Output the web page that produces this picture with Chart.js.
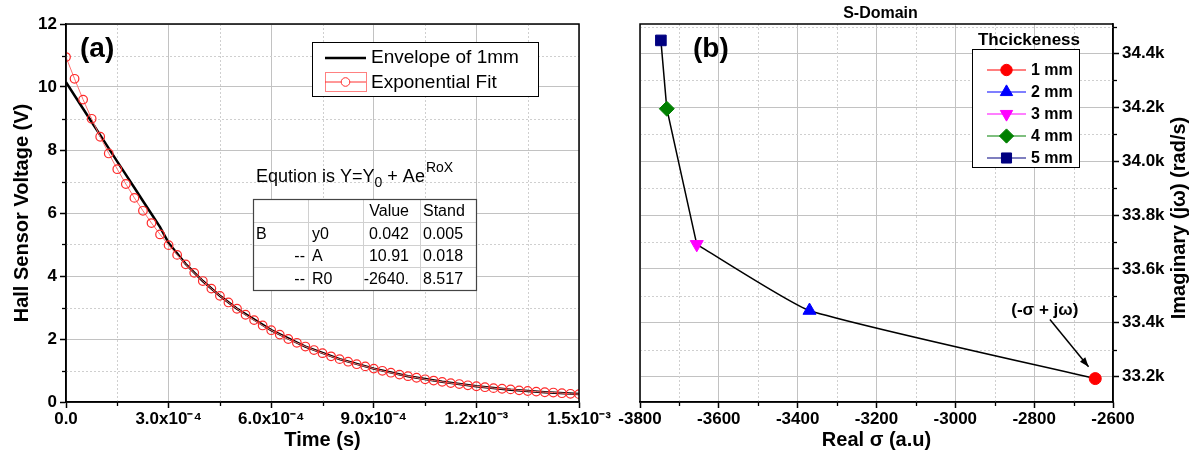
<!DOCTYPE html>
<html>
<head>
<meta charset="utf-8">
<script src="https://cdn.jsdelivr.net/npm/chart.js@4.4.1/dist/chart.umd.min.js"></script>
<style>
html,body{margin:0;padding:0;background:#fff;}
#wrap{position:relative;width:1201px;height:459px;overflow:hidden;background:#fff;}
#ca{position:absolute;left:0;top:0;}
#cb{position:absolute;left:600px;top:0;}
</style>
</head>
<body>
<div id="wrap">
<canvas id="ca" width="640" height="459"></canvas>
<canvas id="cb" width="601" height="459"></canvas>
</div>
<script>
// ---------- Panel (a) data ----------
const fitTimes = [0,0.000025,0.00005,0.000075,0.0001,0.000125,0.00015,0.000175,0.0002,0.000225,
  0.00025,0.000275,0.0003,0.000325,0.00035,0.000375,0.0004,0.000425,0.00045,0.000475,
  0.0005,0.000525,0.00055,0.000575,0.0006,0.000625,0.00065,0.000675,0.0007,0.000725,
  0.00075,0.000775,0.0008,0.000825,0.00085,0.000875,0.0009,0.000925,0.00095,0.000975,
  0.001,0.001025,0.00105,0.001075,0.0011,0.001125,0.00115,0.001175,0.0012,0.001225,
  0.00125,0.001275,0.0013,0.001325,0.00135,0.001375,0.0014,0.001425,0.00145,0.001475,0.0015];
const fitVoltage = [10.95,10.26,9.60,8.99,8.42,7.89,7.39,6.92,6.48,6.07,
  5.68,5.32,4.98,4.67,4.37,4.10,3.84,3.60,3.37,3.16,
  2.96,2.77,2.60,2.43,2.28,2.14,2.00,1.88,1.76,1.65,
  1.55,1.45,1.36,1.28,1.20,1.13,1.06,0.99,0.93,0.87,
  0.82,0.77,0.72,0.68,0.64,0.60,0.57,0.53,0.50,0.47,
  0.44,0.42,0.40,0.37,0.35,0.33,0.31,0.30,0.28,0.26,0.25];
const envTimes = [0,0.000025,0.00005,0.000075,0.0001,0.000125,0.00015,0.000175,0.0002,0.000225,
  0.00025,0.000275,0.0003,0.00035,0.0004,0.00045,0.0005,0.0006,0.0007,0.0008,0.0009,
  0.001,0.0011,0.0012,0.0013,0.0014,0.0015];
const envVoltage = [10.15,9.73,9.31,8.89,8.47,8.05,7.63,7.22,6.80,6.38,
  5.97,5.55,5.05,4.38,3.84,3.37,2.96,2.28,1.76,1.36,1.06,
  0.82,0.64,0.50,0.39,0.31,0.25];
const timeTickValues = [0,0.0003,0.0006,0.0009,0.0012,0.0015];
const timeTickLabels = ['0.0','3.0x10\u207B\u2074','6.0x10\u207B\u2074','9.0x10\u207B\u2074','1.2x10\u207B\u00B3','1.5x10\u207B\u00B3'];
const voltTickValues = [0,2,4,6,8,10,12];
const voltTickLabels = ['0','2','4','6','8','10','12'];
const timeMinorTicks = [0.00015,0.00045,0.00075,0.00105,0.00135];
const voltMinorTicks = [1,3,5,7,9,11];
const fitTableHeader = ['','','Value','Stand'];
const fitTableRows = [['B','y0','0.042','0.005'],['--','A','10.91','0.018'],['--','R0','-2640.','8.517']];

// ---------- Panel (b) data ----------
const thickness = ['1 mm','2 mm','3 mm','4 mm','5 mm'];
const realSigma = [-2645,-3370,-3656,-3732,-3747];
const imagOmega = [33192,33445,33691,34195,34449];
const realTickValues = [-3800,-3600,-3400,-3200,-3000,-2800,-2600];
const realTickLabels = ['-3800','-3600','-3400','-3200','-3000','-2800','-2600'];
const imagTickValues = [33200,33400,33600,33800,34000,34200,34400];
const imagTickLabels = ['33.2k','33.4k','33.6k','33.8k','34.0k','34.2k','34.4k'];
const realMinorTicks = [-3700,-3500,-3300,-3100,-2900,-2700];
const imagMinorTicks = [33300,33500,33700,33900,34100,34300,34500];

// ---------- styles ----------
const FONT = "'Liberation Sans', Arial, Helvetica, sans-serif";
const GRID = '#c2c2c2';
const MINOR = '#cfcfcf';
const seriesColors = ['#ff0000','#0000ff','#ff00ff','#008000','#000080'];
const markerStyles = ['circle','triangle','triangle','rectRot','rect'];
const markerRot = [0,0,180,0,0];
const markerRad = [6,7.5,7.5,7.5,7.5];

function setTicks(values) {
  return function (scale) { scale.ticks = values.map(v => ({value: v})); };
}

function drawMarker(ctx, style, rot, x, y, r, color) {
  ctx.save();
  ctx.translate(x, y);
  ctx.rotate(rot * Math.PI / 180);
  ctx.beginPath();
  if (style === 'circle') ctx.arc(0, 0, r, 0, Math.PI * 2);
  else if (style === 'triangle') {
    ctx.moveTo(0, -r); ctx.lineTo(r * 0.866, r * 0.5); ctx.lineTo(-r * 0.866, r * 0.5); ctx.closePath();
  } else if (style === 'rectRot') {
    ctx.moveTo(0, -r); ctx.lineTo(r, 0); ctx.lineTo(0, r); ctx.lineTo(-r, 0); ctx.closePath();
  } else if (style === 'rect') {
    const s = r * Math.SQRT1_2; ctx.rect(-s, -s, 2 * s, 2 * s);
  }
  ctx.fillStyle = color; ctx.strokeStyle = color; ctx.lineWidth = 1;
  ctx.fill(); ctx.stroke();
  ctx.restore();
}

function drawMinor(chart, mx, my, ySide) {
  const {ctx, chartArea: a, scales} = chart;
  const xs = scales.x, ys = scales.y;
  ctx.save();
  ctx.strokeStyle = MINOR; ctx.lineWidth = 1; ctx.setLineDash([2, 2]);
  mx.forEach(v => { const p = Math.round(xs.getPixelForValue(v)) + 0.5; ctx.beginPath(); ctx.moveTo(p, a.top); ctx.lineTo(p, a.bottom); ctx.stroke(); });
  my.forEach(v => { const p = Math.round(ys.getPixelForValue(v)) + 0.5; ctx.beginPath(); ctx.moveTo(a.left, p); ctx.lineTo(a.right, p); ctx.stroke(); });
  ctx.setLineDash([]); ctx.strokeStyle = '#000'; ctx.lineWidth = 1.3;
  mx.forEach(v => { const p = Math.round(xs.getPixelForValue(v)) + 0.5; ctx.beginPath(); ctx.moveTo(p, a.bottom); ctx.lineTo(p, a.bottom + 4); ctx.stroke(); });
  my.forEach(v => {
    const p = Math.round(ys.getPixelForValue(v)) + 0.5; ctx.beginPath();
    if (ySide === 'left') { ctx.moveTo(a.left - 4, p); ctx.lineTo(a.left, p); }
    else { ctx.moveTo(a.right, p); ctx.lineTo(a.right + 4, p); }
    ctx.stroke();
  });
  ctx.restore();
}

function frame(chart) {
  const {ctx, chartArea: a} = chart;
  ctx.save(); ctx.strokeStyle = '#000'; ctx.lineWidth = 1.5;
  ctx.strokeRect(a.left, a.top, a.right - a.left, a.bottom - a.top);
  ctx.restore();
}

const tickFont = {family: FONT, size: 17, weight: 'bold'};
const titleFont = {family: FONT, size: 20, weight: 'bold'};

// ---------- Panel (a) ----------
const annotA = {
  id: 'annotA',
  beforeDatasetsDraw(chart) { drawMinor(chart, timeMinorTicks, voltMinorTicks, 'left'); },
  afterDraw(chart) {
    const ctx = chart.ctx;
    frame(chart);
    ctx.save();
    ctx.fillStyle = '#000'; ctx.textBaseline = 'middle'; ctx.textAlign = 'left';
    ctx.font = 'bold 28px ' + FONT;
    ctx.fillText('(a)', 80, 49);
    // legend
    ctx.fillStyle = '#fff'; ctx.fillRect(312, 42, 226, 54);
    ctx.strokeStyle = '#000'; ctx.lineWidth = 1; ctx.strokeRect(312.5, 42.5, 226, 54);
    ctx.strokeStyle = '#000'; ctx.lineWidth = 2.5;
    ctx.beginPath(); ctx.moveTo(325, 58); ctx.lineTo(366, 58); ctx.stroke();
    ctx.strokeStyle = '#ff8080'; ctx.lineWidth = 1;
    ctx.strokeRect(325.5, 72.5, 41, 19);
    ctx.strokeStyle = '#ff3030'; ctx.beginPath(); ctx.moveTo(325, 82); ctx.lineTo(366, 82); ctx.stroke();
    ctx.fillStyle = '#fff'; ctx.beginPath(); ctx.arc(345.5, 82, 4.3, 0, Math.PI * 2); ctx.fill(); ctx.stroke();
    ctx.fillStyle = '#000'; ctx.font = '19px ' + FONT;
    ctx.fillText('Envelope of 1mm', 371, 58);
    ctx.fillText('Exponential Fit', 371, 83);
    // equation
    ctx.textBaseline = 'alphabetic';
    let x = 256; const base = 182;
    ctx.font = '18px ' + FONT;
    let s = 'Eqution is Y=Y'; ctx.fillText(s, x, base); x += ctx.measureText(s).width;
    ctx.font = '14px ' + FONT; ctx.fillText('0', x, base + 5); x += ctx.measureText('0').width;
    ctx.font = '18px ' + FONT; s = ' + Ae'; ctx.fillText(s, x, base); x += ctx.measureText(s).width;
    ctx.font = '14px ' + FONT; ctx.fillText('RoX', x + 1, base - 10);
    // table
    const tx = [253, 308, 363, 420, 476];
    const ty = [199, 222, 245, 267, 290];
    ctx.fillStyle = '#fff'; ctx.fillRect(tx[0], ty[0], tx[4] - tx[0], ty[4] - ty[0]);
    ctx.strokeStyle = '#d0d0d0'; ctx.lineWidth = 1;
    for (let i = 1; i < 4; i++) {
      ctx.beginPath(); ctx.moveTo(tx[i] + 0.5, ty[0]); ctx.lineTo(tx[i] + 0.5, ty[4]); ctx.stroke();
      ctx.beginPath(); ctx.moveTo(tx[0], ty[i] + 0.5); ctx.lineTo(tx[4], ty[i] + 0.5); ctx.stroke();
    }
    ctx.strokeStyle = '#444'; ctx.lineWidth = 1.2;
    ctx.strokeRect(tx[0] + 0.5, ty[0] + 0.5, tx[4] - tx[0], ty[4] - ty[0]);
    ctx.fillStyle = '#000'; ctx.font = '16px ' + FONT; ctx.textBaseline = 'middle';
    const rows = [fitTableHeader].concat(fitTableRows);
    rows.forEach((r, ri) => {
      const cy = (ty[ri] + ty[ri + 1]) / 2 + 1;
      ctx.textAlign = 'left';
      if (r[0] === 'B') ctx.fillText(r[0], tx[0] + 3, cy);
      else if (r[0]) { ctx.textAlign = 'right'; ctx.fillText(r[0], tx[1] - 3, cy); }
      ctx.textAlign = 'left'; ctx.fillText(r[1], tx[1] + 4, cy);
      ctx.textAlign = 'right'; ctx.fillText(r[2], tx[3] - 11, cy);
      ctx.textAlign = 'left'; ctx.fillText(r[3], tx[3] + 3, cy);
    });
    ctx.restore();
  }
};

new Chart(document.getElementById('ca'), {
  type: 'scatter',
  data: {
    datasets: [
      {
        label: 'Exponential Fit',
        data: fitTimes.map((t, i) => ({x: t, y: fitVoltage[i]})),
        showLine: true, borderColor: '#ff7070', borderWidth: 1,
        pointStyle: 'circle', pointRadius: 4.3, pointBorderWidth: 1.2,
        pointBorderColor: '#ff2a2a', pointBackgroundColor: 'rgba(255,255,255,0)',
        order: 0
      },
      {
        label: 'Envelope of 1mm',
        data: envTimes.map((t, i) => ({x: t, y: envVoltage[i]})),
        showLine: true, borderColor: '#000', borderWidth: 2.5, pointRadius: 0,
        order: 1
      }
    ]
  },
  options: {
    responsive: false, animation: false, events: [],
    layout: {padding: {top: 24, right: 61, left: 0, bottom: 0}},
    plugins: {legend: {display: false}, tooltip: {enabled: false}},
    scales: {
      x: {
        type: 'linear', min: 0, max: 0.0015,
        afterFit(s) { s.height = 57; },
        afterBuildTicks: setTicks(timeTickValues),
        ticks: {autoSkip: false, maxRotation: 0, color: '#000', font: tickFont, padding: 1,
          callback: (v, i) => timeTickLabels[i]},
        grid: {color: GRID, lineWidth: 1, tickColor: '#000', tickLength: 6, tickWidth: 1.5},
        border: {color: '#000', width: 1.5},
        title: {display: true, text: 'Time (s)', color: '#000', font: titleFont, padding: {top: 0, bottom: 7}}
      },
      y: {
        type: 'linear', min: 0, max: 12,
        afterFit(s) { s.width = 66; },
        afterBuildTicks: setTicks(voltTickValues),
        ticks: {autoSkip: false, color: '#000', font: tickFont, padding: 3,
          callback: (v, i) => voltTickLabels[i]},
        grid: {color: GRID, lineWidth: 1, tickColor: '#000', tickLength: 6, tickWidth: 1.5},
        border: {color: '#000', width: 1.5},
        title: {display: true, text: 'Hall Sensor Voltage (V)', color: '#000', font: titleFont, padding: {top: 10, bottom: 0}}
      }
    }
  },
  plugins: [annotA]
});

// ---------- Panel (b) ----------
const annotB = {
  id: 'annotB',
  beforeDatasetsDraw(chart) { drawMinor(chart, realMinorTicks, imagMinorTicks, 'right'); },
  afterDraw(chart) {
    const ctx = chart.ctx, a = chart.chartArea, xs = chart.scales.x, ys = chart.scales.y;
    frame(chart);
    ctx.save();
    ctx.fillStyle = '#000'; ctx.textBaseline = 'middle';
    ctx.textAlign = 'left'; ctx.font = 'bold 28px ' + FONT;
    ctx.fillText('(b)', 93, 49);
    ctx.textAlign = 'center'; ctx.font = 'bold 16px ' + FONT;
    ctx.fillText('S-Domain', (a.left + a.right) / 2 + 4, 14);
    // y title (reads bottom to top)
    ctx.save();
    ctx.translate(579, 218); ctx.rotate(-Math.PI / 2);
    ctx.font = 'bold 20px ' + FONT; ctx.textAlign = 'center';
    ctx.fillText('Imaginary (j\u03C9) (rad/s)', 0, 0);
    ctx.restore();
    // legend
    ctx.font = 'bold 17px ' + FONT; ctx.textAlign = 'center';
    ctx.fillText('Thcickeness', 429, 40);
    ctx.fillStyle = '#fff'; ctx.fillRect(372, 49, 107, 118);
    ctx.strokeStyle = '#000'; ctx.lineWidth = 1; ctx.strokeRect(372.5, 49.5, 107, 118);
    ctx.textAlign = 'left'; ctx.font = 'bold 16px ' + FONT;
    thickness.forEach((t, i) => {
      const y = 70 + i * 22;
      ctx.strokeStyle = seriesColors[i]; ctx.lineWidth = 1.2;
      ctx.beginPath(); ctx.moveTo(387, y); ctx.lineTo(426, y); ctx.stroke();
      drawMarker(ctx, markerStyles[i], markerRot[i], 406.5, y, markerRad[i] * 0.95, seriesColors[i]);
      ctx.fillStyle = '#000'; ctx.fillText(t, 431, y + 1);
    });
    // annotation arrow
    const x1 = xs.getPixelForValue(-2760), y1 = ys.getPixelForValue(33412);
    const x2 = xs.getPixelForValue(-2662), y2 = ys.getPixelForValue(33236);
    ctx.strokeStyle = '#000'; ctx.lineWidth = 1.5;
    ctx.beginPath(); ctx.moveTo(x1, y1); ctx.lineTo(x2, y2); ctx.stroke();
    const ang = Math.atan2(y2 - y1, x2 - x1);
    ctx.fillStyle = '#000'; ctx.beginPath();
    ctx.moveTo(x2, y2);
    ctx.lineTo(x2 - 10 * Math.cos(ang - 0.35), y2 - 10 * Math.sin(ang - 0.35));
    ctx.lineTo(x2 - 10 * Math.cos(ang + 0.35), y2 - 10 * Math.sin(ang + 0.35));
    ctx.closePath(); ctx.fill();
    ctx.font = 'bold 17px ' + FONT; ctx.textAlign = 'center';
    ctx.fillText('(-\u03C3 + j\u03C9)', xs.getPixelForValue(-2773), ys.getPixelForValue(33447));
    ctx.restore();
  }
};

const pointSets = thickness.map((t, i) => ({
  label: t,
  data: [{x: realSigma[i], y: imagOmega[i]}],
  pointStyle: markerStyles[i], pointRotation: markerRot[i], pointRadius: markerRad[i],
  pointBackgroundColor: seriesColors[i], pointBorderColor: seriesColors[i], borderColor: seriesColors[i],
  showLine: false
}));
// path 5 mm -> 4 mm -> 3 mm (straight), 3 mm -> 2 mm -> 1 mm (slightly smoothed)
const upperIdx = [4, 3, 2];
const lowerIdx = [2, 1, 0];
const connectors = [
  {label: 'path-upper', data: upperIdx.map(i => ({x: realSigma[i], y: imagOmega[i]})),
   showLine: true, borderColor: '#000', borderWidth: 1.5, pointRadius: 0, tension: 0},
  {label: 'path-lower', data: lowerIdx.map(i => ({x: realSigma[i], y: imagOmega[i]})),
   showLine: true, borderColor: '#000', borderWidth: 1.5, pointRadius: 0, tension: 0.15}
];

new Chart(document.getElementById('cb'), {
  type: 'scatter',
  data: {datasets: pointSets.concat(connectors)},
  options: {
    responsive: false, animation: false, events: [],
    layout: {padding: {top: 24, right: 0, left: 40, bottom: 0}},
    plugins: {legend: {display: false}, tooltip: {enabled: false}},
    scales: {
      x: {
        type: 'linear', min: -3800, max: -2600,
        afterFit(s) { s.height = 57; },
        afterBuildTicks: setTicks(realTickValues),
        ticks: {autoSkip: false, maxRotation: 0, color: '#000', font: tickFont, padding: 1,
          callback: (v, i) => realTickLabels[i]},
        grid: {color: GRID, lineWidth: 1, tickColor: '#000', tickLength: 6, tickWidth: 1.5},
        border: {color: '#000', width: 1.5},
        title: {display: true, text: 'Real \u03C3 (a.u)', color: '#000', font: titleFont, padding: {top: 0, bottom: 7}}
      },
      y: {
        type: 'linear', position: 'right', min: 33105, max: 34510,
        afterFit(s) { s.width = 88; },
        afterBuildTicks: setTicks(imagTickValues),
        ticks: {autoSkip: false, color: '#000', font: tickFont, padding: 3,
          callback: (v, i) => imagTickLabels[i]},
        grid: {color: GRID, lineWidth: 1, tickColor: '#000', tickLength: 6, tickWidth: 1.5},
        border: {color: '#000', width: 1.5},
        title: {display: false}
      }
    }
  },
  plugins: [annotB]
});
</script>
</body>
</html>
